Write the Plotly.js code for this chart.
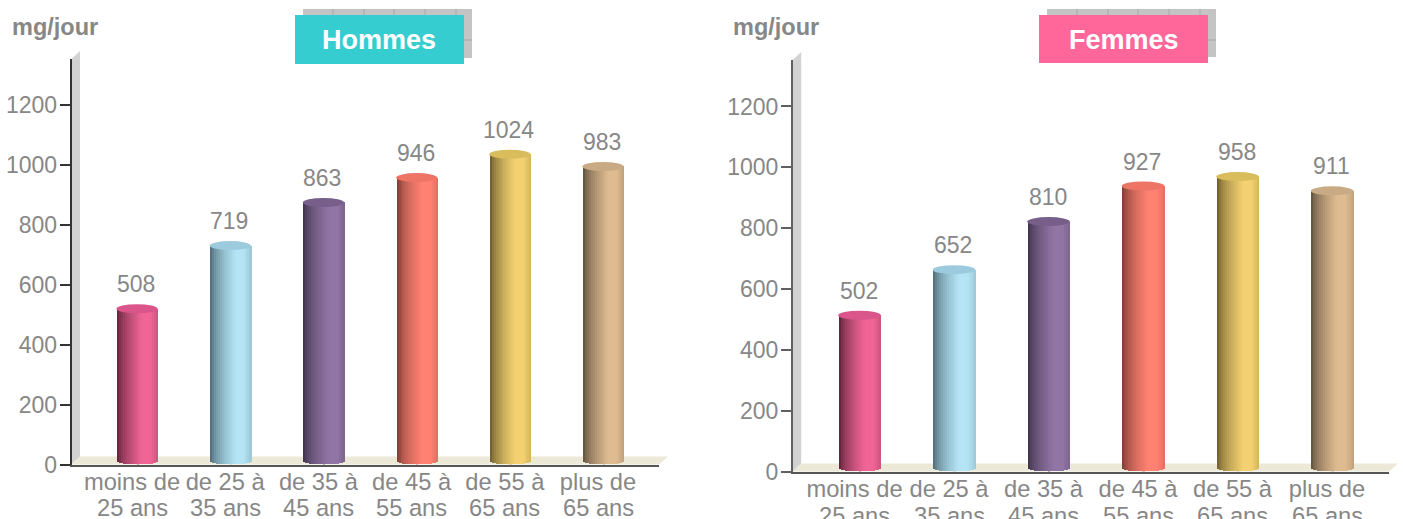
<!DOCTYPE html>
<html><head><meta charset="utf-8">
<script src="https://cdn.plot.ly/plotly-3.0.1.min.js"></script>
<style>html,body{margin:0;padding:0;background:#fff;overflow:hidden}</style>
</head><body><div id="chart" style="width:1403px;height:519px"></div>
<script>
const categories = ["moins de","de 25 à","de 35 à","de 45 à","de 55 à","plus de"];
const categoriesLine2 = ["25 ans","35 ans","45 ans","55 ans","65 ans","65 ans"];
const hommes = [508,719,863,946,1024,983];
const femmes = [502,652,810,927,958,911];
const tickValues = [0,200,400,600,800,1000,1200];
const lightColors = ["#F06496","#B5E5F5","#9175A5","#FF8172","#F3D170","#DEBB90"];
const darkColors  = ["#4A1A2C","#3F5A66","#352A40","#6E342C","#5C4E24","#4E4232"];
const capColors   = ["#D9558A","#9CCBDD","#775F8A","#EE7466","#D9BC5C","#C8AB84"];

const W=1403,H=519,GRAY="#878787",FONT="Liberation Sans, Arial, sans-serif";
const px=x=>x/W, py=y=>1-y/H;
const panels=[
 {name:"Hommes",values:hommes,xa:"x",ya:"y",axL:71.5,axR:659,y0:464.5,yT:59,c0:137,step:93.2,bw:41,scale:.2996,axisColor:"#333333",
  box:[295,15,464,64],boxColor:"#36CDD0",unit:12,tip:668,line2:508,titleShift:-1},
 {name:"Femmes",values:femmes,xa:"x2",ya:"y2",axL:792.7,axR:1389,y0:471.5,yT:60,c0:859.5,step:94.5,bw:42.5,scale:.3042,axisColor:"#606060",
  box:[1039,15,1208,63],boxColor:"#FF6699",unit:733,tip:1398,line2:516,titleShift:0}
];
const hex=c=>[1,3,5].map(i=>parseInt(c.substr(i,2),16));
const mix=(a,b,t)=>{const A=hex(a),B=hex(b);return "rgb("+A.map((v,i)=>Math.round(v+(B[i]-v)*t)).join(",")+")";};
const shade=(dark,light,t)=> t<.62 ? mix(dark,light,Math.pow(t/.62,.55)) : (t>.82 ? mix(light,dark,(t-.82)/.18*.22) : mix(light,light,0));

const N=21,traces=[],shapes=[],annotations=[],layout={};
panels.forEach((p,k)=>{
  const rangeX=[(p.axL-p.c0)/p.step,(p.axR-p.c0)/p.step];
  const rangeY=[0,(p.y0-p.yT)/p.scale];
  const sfx=k?"2":"";
  layout["xaxis"+sfx]={domain:[px(p.axL),px(p.axR)],range:rangeX,type:"category",categoryorder:"array",categoryarray:categories,
    anchor:p.ya,showgrid:false,zeroline:false,showline:true,linecolor:"#555555",linewidth:1.5,ticks:"",ticklabelstandoff:-5,ticklabelshift:-5,
    tickfont:{family:FONT,size:23.7,color:GRAY},fixedrange:true,tickangle:0};
  layout["yaxis"+sfx]={domain:[py(p.y0),py(p.yT)],range:rangeY,anchor:p.xa,showgrid:false,zeroline:false,showline:true,
    linecolor:p.axisColor,linewidth:1.5,ticks:"outside",ticklen:10,tickwidth:1.5,tickcolor:p.axisColor,tickmode:"array",tickvals:tickValues,
    ticktext:tickValues.map(String),tickfont:{family:FONT,size:23,color:GRAY},ticklabelstandoff:-2,fixedrange:true};
  const w=p.bw/p.step, capH=4.5/p.scale, lift=3/p.scale, up=3.5/p.scale;
  for(let s=0;s<N;s++){
    const t=(s+.5)/N, base=lift*(1-Math.sqrt(1-Math.pow(2*t-1,2)));
    traces.push({type:"bar",xaxis:p.xa,yaxis:p.ya,x:categories,y:p.values.map(v=>v+up-base),base:categories.map(()=>base),
      width:w/N*1.2,offset:-w/2+s*w/N,marker:{color:lightColors.map((l,i)=>shade(darkColors[i],l,t)),line:{width:0}},
      hoverinfo:"skip",showlegend:false});
  }
  p.values.forEach((v,i)=>{
    const yc=v+up;
    shapes.push({type:"circle",xref:p.xa,yref:p.ya,x0:i-w/2,x1:i+w/2,y0:yc-capH,y1:yc+capH,fillcolor:capColors[i],line:{width:0}});
    annotations.push({xref:p.xa,yref:p.ya,x:i,y:v+28/p.scale,xanchor:"center",yanchor:"middle",xshift:-1,showarrow:false,
      text:String(v),font:{family:FONT,size:23,color:GRAY}});
    annotations.push({xref:p.xa,yref:"paper",x:i,y:py(p.line2),xanchor:"center",yanchor:"middle",xshift:-5,showarrow:false,
      text:categoriesLine2[i],font:{family:FONT,size:23.7,color:GRAY}});
  });
  const F=v=>v.toFixed(5);
  const path=pts=>"M"+pts.map(q=>F(px(q[0]))+","+F(py(q[1]))).join("L")+"Z";
  shapes.push({type:"path",xref:"paper",yref:"paper",layer:"below",fillcolor:"#D2D2D2",line:{width:0},
    path:path([[p.axL,p.yT],[p.axL+8.5,p.yT-8],[p.axL+8.5,p.y0-8],[p.axL,p.y0]])});
  shapes.push({type:"path",xref:"paper",yref:"paper",layer:"below",fillcolor:"#ECE9D8",line:{width:0},
    path:path([[p.axL,p.y0],[p.axL+8.5,p.y0-8],[p.tip,p.y0-8],[p.axR,p.y0]])});
  const [bx0,by0,bx1,by1]=p.box, sx0=bx0+8,sx1=bx1+8,sy0=9,sy1=by1-6;
  const rect=(a,b,c,d,col)=>({type:"rect",xref:"paper",yref:"paper",x0:px(a),x1:px(c),y0:py(d),y1:py(b),fillcolor:col,line:{width:0}});
  const ln=(a,b,c,d)=>({type:"line",xref:"paper",yref:"paper",x0:px(a),x1:px(c),y0:py(d),y1:py(b),line:{color:"#A8A8A8",width:1}});
  shapes.push(rect(sx0,sy0,sx1,sy1,"#C4C4C4"));
  [30,61,91,122,153].forEach(d=>shapes.push(ln(sx0+d,sy0,sx0+d,sy1)));
  shapes.push(ln(sx0,40,sx1,40));
  shapes.push(rect(bx0,by0,bx1,by1,p.boxColor));
  annotations.push({xref:"paper",yref:"paper",x:px((bx0+bx1)/2),y:py(40),xanchor:"center",yanchor:"middle",showarrow:false,xshift:p.titleShift,
    text:"<b>"+p.name+"</b>",font:{family:FONT,size:27,color:"#FFFFFF"}});
  annotations.push({xref:"paper",yref:"paper",x:px(p.unit),y:py(27),xanchor:"left",yanchor:"middle",showarrow:false,xshift:-1,
    text:"<b>mg/jour</b>",font:{family:FONT,size:23.5,color:GRAY},borderpad:0});
});
Object.assign(layout,{width:W,height:H,margin:{l:0,r:0,t:0,b:0,pad:0},paper_bgcolor:"#FFFFFF",plot_bgcolor:"rgba(0,0,0,0)",
  barmode:"overlay",bargap:0,showlegend:false,shapes,annotations,font:{family:FONT,color:GRAY}});
Plotly.newPlot("chart",traces,layout,{displayModeBar:false});
</script></body></html>
